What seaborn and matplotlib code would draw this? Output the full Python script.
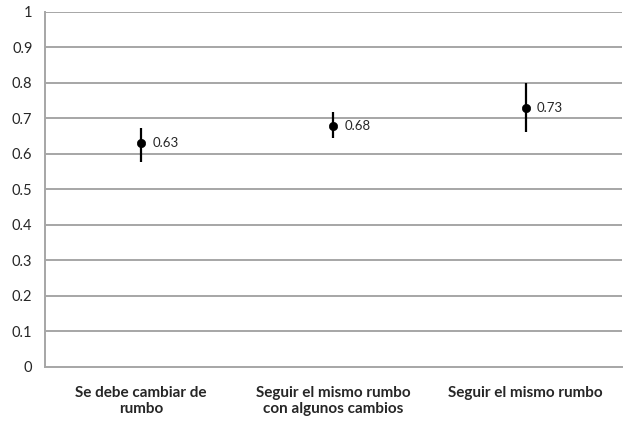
import numpy as np
import pandas as pd
import matplotlib
matplotlib.use("Agg")
import matplotlib.pyplot as plt
import seaborn as sns

categorias = ["Se debe cambiar de\nrumbo", "Seguir el mismo rumbo\ncon algunos cambios", "Seguir el mismo rumbo"]
valores = [0.63, 0.68, 0.73]
inferior = [0.578, 0.646, 0.663]
superior = [0.672, 0.717, 0.801]
etiquetas = ["0.63", "0.68", "0.73"]
yticks = [0, 0.1, 0.2, 0.3, 0.4, 0.5, 0.6, 0.7, 0.8, 0.9, 1]

sns.set_style("white")
plt.rcParams['font.family'] = ['Lato', 'DejaVu Sans']

df = pd.DataFrame({"pos": np.arange(len(categorias)), "valor": valores})

fig = plt.figure(figsize=(6.23, 4.36), dpi=100)
ax = fig.add_axes([0.0722, 0.1583, 0.926, 0.8142])

gris = "#a6a6a6"
for t in yticks[1:]:
    ax.axhline(t, color=gris, lw=1.4, zorder=0)

# barras de error
ax.vlines(df["pos"], inferior, superior, color="black", lw=1.6, zorder=2)
sns.scatterplot(data=df, x="pos", y="valor", color="black", s=36, edgecolor="black", zorder=3, ax=ax, legend=False)

for x, y, t in zip(df["pos"], valores, etiquetas):
    ax.annotate(t, (x, y), xytext=(8, 0), textcoords="offset points", va="center", ha="left", fontsize=9.5)

ax.set_xlim(-0.5, len(categorias) - 0.5)
ax.set_ylim(0, 1)
ax.set_yticks(yticks)
ax.set_yticklabels([("%g" % t) for t in yticks], fontsize=10.5)
ax.set_xticks(df["pos"])
ax.set_xticklabels(categorias, fontsize=11, fontweight="bold", linespacing=1.1)
ax.set_xticks(np.arange(len(categorias) + 1) - 0.5, minor=True)
ax.tick_params(axis="x", which="major", length=0, pad=14)
ax.tick_params(axis="x", which="minor", length=5, color=gris, width=1.4, direction="out")
ax.tick_params(axis="y", length=5, color=gris, width=1.4, direction="out", pad=4)
ax.set_xlabel("")
ax.set_ylabel("")

for s in ["top", "right"]:
    ax.spines[s].set_visible(False)
for s in ["left", "bottom"]:
    ax.spines[s].set_color(gris)
    ax.spines[s].set_linewidth(1.4)

fig.savefig("out.png", dpi=100)
